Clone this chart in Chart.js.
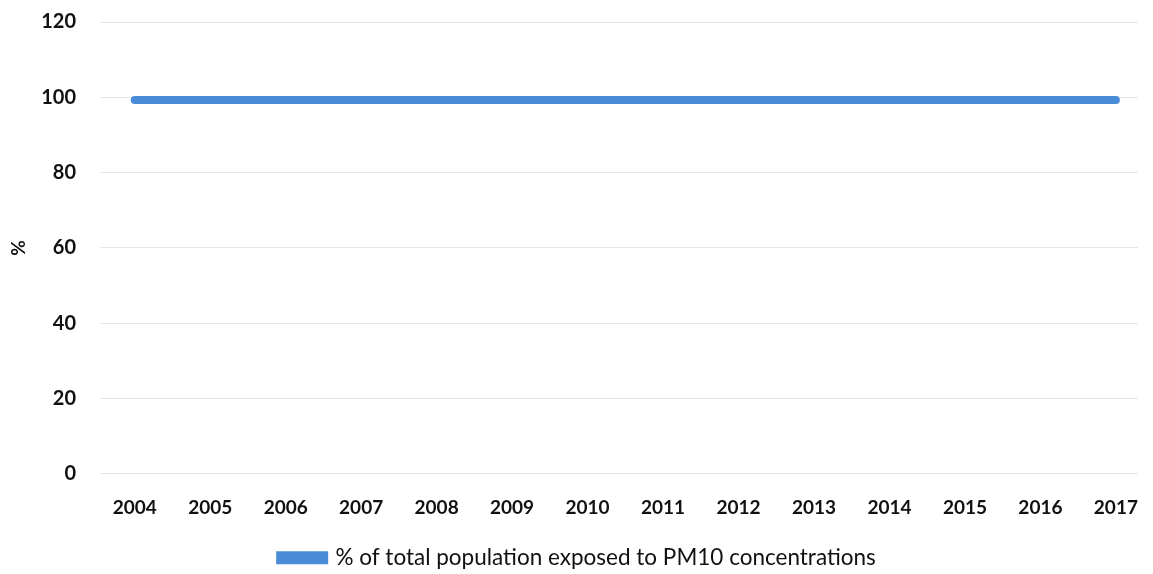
<!DOCTYPE html>
<html>
<head>
<meta charset="utf-8">
<script src="https://cdn.jsdelivr.net/npm/chart.js@4/dist/chart.umd.min.js"></script>
<style>
  html, body { margin: 0; padding: 0; background: #fff; }
  #wrap { width: 1153px; height: 574px; overflow: hidden; }
  /* canvas sits a bit higher so the top gridline gets close to the edge */
  #inner { width: 1153px; height: 588px; margin-top: -14px; position: relative; }
</style>
</head>
<body>
<div id="wrap"><div id="inner"><canvas id="pmChart"></canvas></div></div>
<script>
// PM10 exposure, share of total population
const years = [2004, 2005, 2006, 2007, 2008, 2009, 2010,
               2011, 2012, 2013, 2014, 2015, 2016, 2017];
const exposedShare = [99.3, 99.3, 99.3, 99.3, 99.3, 99.3, 99.3,
                      99.3, 99.3, 99.3, 99.3, 99.3, 99.3, 99.3];
const yTicks = [0, 20, 40, 60, 80, 100, 120];

const tickFont = { family: 'Lato', size: 19, weight: 'bold' };

const ctx = document.getElementById('pmChart').getContext('2d');
new Chart(ctx, {
  type: 'line',
  data: {
    datasets: [{
      label: '% of total population exposed to PM10 concentrations',
      data: years.map((y, i) => ({ x: y, y: exposedShare[i] })),
      borderColor: '#4a8bd5',
      backgroundColor: '#4a8bd5',
      borderWidth: 8,
      pointRadius: 0,
      borderCapStyle: 'round'
    }]
  },
  options: {
    responsive: true,
    maintainAspectRatio: false,
    animation: false,
    layout: { padding: { left: 7, right: 4, top: 0, bottom: -5 } },
    plugins: {
      legend: {
        position: 'bottom',
        labels: {
          color: '#111',
          font: { family: 'Lato', size: 22.5 },
          boxWidth: 44,
          boxHeight: 5,
          padding: 8
        }
      },
      tooltip: { enabled: false }
    },
    scales: {
      x: {
        type: 'linear',
        min: 2003.54,
        max: 2017.29,
        afterBuildTicks: axis => { axis.ticks = years.map(v => ({ value: v })); },
        afterFit: axis => { axis.height += 4; },
        grid: { display: false },
        border: { display: false },
        ticks: {
          color: '#111',
          font: tickFont,
          padding: 15,
          maxRotation: 0,
          callback: v => String(v)
        }
      },
      y: {
        min: 0,
        max: 120,
        afterBuildTicks: axis => { axis.ticks = yTicks.map(v => ({ value: v })); },
        afterFit: axis => { axis.width = 93; },
        grid: { color: '#e6e6e6', lineWidth: 1, drawTicks: false },
        border: { display: false },
        title: {
          display: true,
          text: '%',
          color: '#111',
          font: tickFont,
          padding: { top: 0, bottom: 0 }
        },
        ticks: {
          color: '#111',
          font: { family: 'Lato', size: 20, weight: 'bold' },
          padding: 24
        }
      }
    }
  }
});
</script>
</body>
</html>
